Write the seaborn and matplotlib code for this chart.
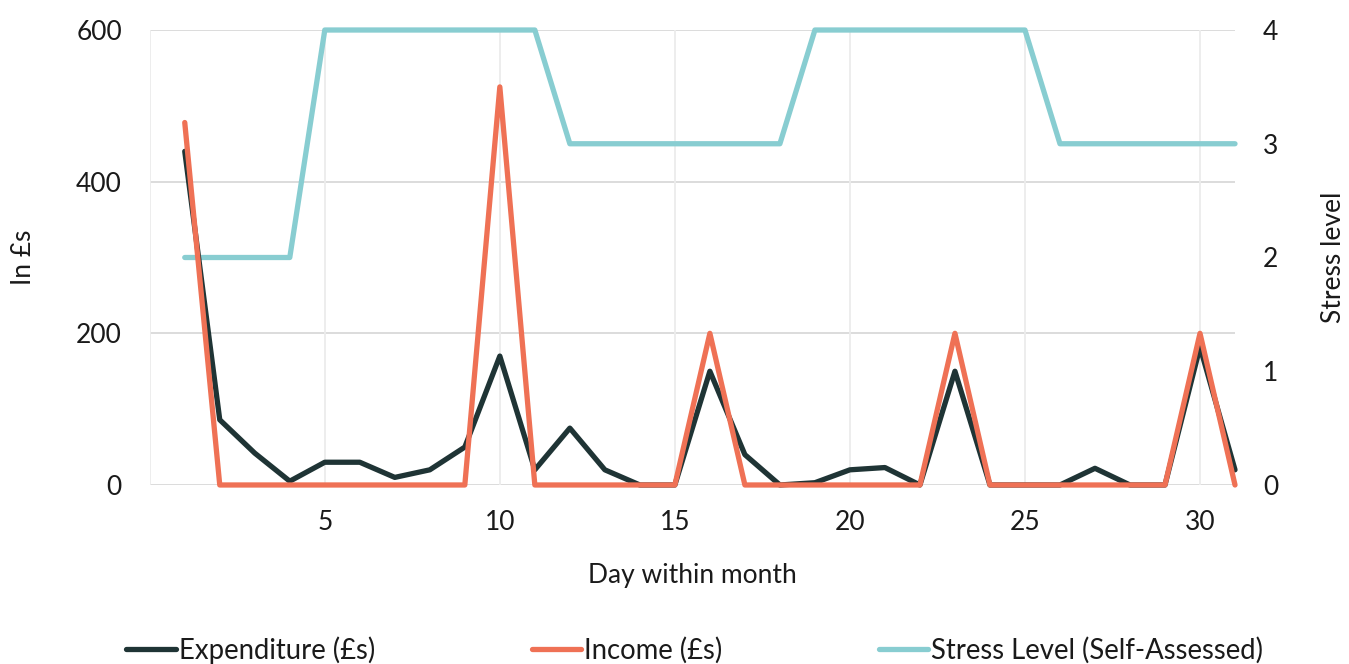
import numpy as np
import pandas as pd
import seaborn as sns
import matplotlib
import matplotlib.pyplot as plt
from matplotlib.lines import Line2D

# data
days = list(range(1, 32))
expenditure = [440, 86, 42, 5, 30, 30, 10, 20, 50, 170,
               20, 75, 20, 0, 0, 150, 40, 0, 3, 20,
               23, 0, 150, 0, 0, 0, 22, 0, 0, 182, 20]
income = [478, 0, 0, 0, 0, 0, 0, 0, 0, 525,
          0, 0, 0, 0, 0, 200, 0, 0, 0, 0,
          0, 0, 200, 0, 0, 0, 0, 0, 0, 200, 0]
stress = [2, 2, 2, 2, 4, 4, 4, 4, 4, 4,
          4, 3, 3, 3, 3, 3, 3, 3, 4, 4,
          4, 4, 4, 4, 4, 3, 3, 3, 3, 3, 3]

df = pd.DataFrame({'Day': days, 'Expenditure': expenditure,
                   'Income': income, 'Stress': stress})

col_exp = '#1f3435'
col_inc = '#ef7155'
col_str = '#88cdd1'
txt_col = '#1a1a1a'
fs = 19

sns.set_theme(style='white')
plt.rcParams['font.family'] = ['Lato', 'DejaVu Sans']
plt.rcParams['font.size'] = fs

fig = plt.figure(figsize=(13.49, 6.64), dpi=100)
ax = fig.add_axes([0.111, 0.2696, 0.8045, 0.6852])
ax2 = ax.twinx()

lw = 3.8
sns.lineplot(data=df, x='Day', y='Expenditure', ax=ax, color=col_exp, linewidth=lw, clip_on=False)
sns.lineplot(data=df, x='Day', y='Income', ax=ax, color=col_inc, linewidth=lw, clip_on=False)
sns.lineplot(data=df, x='Day', y='Stress', ax=ax2, color=col_str, linewidth=lw, clip_on=False)
ax2.set_zorder(0)
ax.set_zorder(1)
ax.patch.set_visible(False)

ax.set_xlim(0, 31)
ax.set_ylim(0, 600)
ax2.set_ylim(0, 4)
ax.set_xticks([5, 10, 15, 20, 25, 30])
ax.set_yticks([0, 200, 400, 600])
ax2.set_yticks([0, 1, 2, 3, 4])

# grid: horizontal darker, vertical lighter
for y in [0, 200, 400, 600]:
    ax2.axhline(y / 150, color='#d9d9d9', lw=1.3, zorder=0)
for x in [0, 5, 10, 15, 20, 25, 30]:
    ax2.axvline(x, color='#ececec', lw=1.3, zorder=0)

for a in (ax, ax2):
    for s in a.spines.values():
        s.set_visible(False)
    a.tick_params(length=0, labelsize=fs, colors=txt_col)

ax.tick_params(axis='y', pad=20)
ax.tick_params(axis='x', pad=18)
ax2.tick_params(axis='y', pad=20)

ax.set_xlabel('Day within month', fontsize=fs, color=txt_col, labelpad=20)
ax.set_ylabel('In £s', fontsize=fs, color=txt_col, labelpad=29)
ax2.set_ylabel('Stress level', fontsize=fs, color=txt_col, labelpad=31)

handles = [Line2D([], [], color=col_exp, lw=lw, solid_capstyle='round'),
           Line2D([], [], color=col_inc, lw=lw, solid_capstyle='round'),
           Line2D([], [], color=col_str, lw=lw, solid_capstyle='round')]
labels = ['Expenditure (£s)', 'Income (£s)', 'Stress Level (Self-Assessed)']
fig.legend(handles, labels, loc='center', ncol=3, frameon=False,
           bbox_to_anchor=(0.515, 0.021), fontsize=19.8, handlelength=1.8,
           handletextpad=0.1, columnspacing=5.7, labelcolor=txt_col,
           borderpad=0, borderaxespad=0)

fig.savefig('out.png', dpi=100)
